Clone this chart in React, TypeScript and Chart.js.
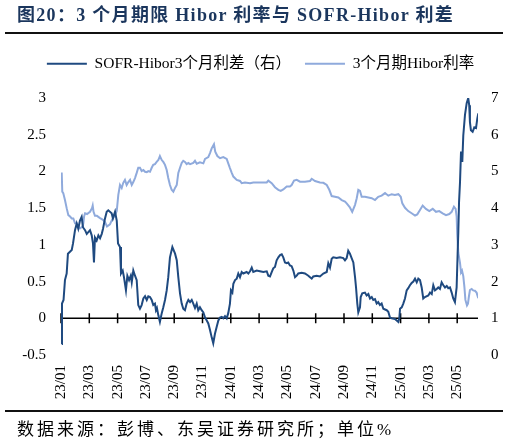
import React, { useEffect, useRef } from "react";
import { Chart, registerables } from "chart.js";

Chart.register(...registerables);

// x positions are months elapsed since 2023-01-01 (decimal months)
const xTickMonths = [0, 2, 4, 6, 8, 10, 12, 14, 16, 18, 20, 22, 24, 26, 28];
const xTickLabels = [
  "23/01", "23/03", "23/05", "23/07", "23/09", "23/11",
  "24/01", "24/03", "24/05", "24/07", "24/09", "24/11",
  "25/01", "25/03", "25/05",
];
const leftTicks = [-0.5, 0, 0.5, 1, 1.5, 2, 2.5, 3];
const rightTicks = [0, 1, 2, 3, 4, 5, 6, 7];

const legendSpread = "SOFR-Hibor3个月利差（右）";
const legendHibor = "3个月期Hibor利率";

// SOFR-Hibor 3M spread (left axis)
const spreadMonth = [
  0.05, 0.07, 0.18, 0.28, 0.40, 0.49, 0.76, 0.85, 0.99, 1.11,
  1.22, 1.34, 1.46, 1.55, 1.70, 1.82, 2.05, 2.17, 2.26, 2.33,
  2.40, 2.52, 2.64, 2.76, 2.88, 2.97, 3.11, 3.23, 3.34, 3.58,
  3.67, 3.82, 3.94, 4.03, 4.17, 4.24, 4.36, 4.45, 4.59, 4.69,
  4.81, 4.93, 5.00, 5.11, 5.23, 5.35, 5.46, 5.58, 5.70, 5.82,
  5.94, 6.06, 6.17, 6.29, 6.41, 6.52, 6.64, 6.71, 6.78, 6.88,
  6.99, 7.12, 7.23, 7.35, 7.47, 7.58, 7.70, 7.87, 8.06, 8.18,
  8.29, 8.41, 8.53, 8.64, 8.76, 8.88, 9.00, 9.12, 9.24, 9.35,
  9.47, 9.59, 9.70, 9.82, 9.94, 10.06, 10.18, 10.30, 10.41, 10.53,
  10.65, 10.76, 10.88, 11.00, 11.12, 11.24, 11.36, 11.47, 11.59, 11.71,
  11.82, 11.94, 12.01, 12.11, 12.18, 12.30, 12.42, 12.53, 12.65, 12.77,
  12.88, 13.12, 13.24, 13.36, 13.48, 13.59, 13.83, 14.06, 14.30, 14.54,
  14.65, 14.77, 14.89, 15.00, 15.12, 15.24, 15.36, 15.48, 15.60, 15.71,
  15.83, 15.95, 16.06, 16.18, 16.30, 16.42, 16.54, 16.66, 16.77, 17.01,
  17.24, 17.48, 17.60, 17.72, 17.83, 18.07, 18.30, 18.54, 18.78, 18.89,
  19.01, 19.13, 19.24, 19.48, 19.72, 19.95, 20.07, 20.19, 20.30, 20.42,
  20.54, 20.66, 20.78, 20.85, 20.94, 21.01, 21.13, 21.18, 21.29, 21.48,
  21.60, 21.72, 21.84, 21.96, 22.07, 22.19, 22.31, 22.42, 22.54, 22.66,
  22.78, 22.90, 23.02, 23.13, 23.25, 23.37, 23.60, 23.84, 23.91, 23.96,
  24.08, 24.19, 24.31, 24.43, 24.54, 24.66, 24.78, 24.90, 25.02, 25.14,
  25.25, 25.37, 25.49, 25.60, 25.72, 25.96, 26.08, 26.20, 26.31, 26.43,
  26.55, 26.66, 26.78, 26.90, 27.02, 27.14, 27.26, 27.37, 27.49, 27.61,
  27.72, 27.84, 27.96, 28.03, 28.08, 28.13, 28.20, 28.27, 28.36, 28.43,
  28.55, 28.67, 28.78, 28.85, 28.90, 28.97, 29.09, 29.21, 29.33, 29.42,
  29.49,
];
const spreadValues = [
  -0.35, 0.20, 0.25, 0.52, 0.61, 0.88, 0.93, 1.02, 1.20, 1.29,
  1.22, 1.33, 1.38, 1.24, 1.20, 1.15, 1.20, 1.13, 1.02, 0.76,
  1.10, 1.06, 1.13, 1.09, 1.15, 1.22, 1.36, 1.45, 1.47, 1.43,
  1.36, 1.45, 1.33, 1.02, 0.97, 0.61, 0.65, 0.56, 0.38, 0.58,
  0.52, 0.58, 0.49, 0.65, 0.58, 0.52, 0.18, 0.13, 0.18, 0.27,
  0.30, 0.25, 0.30, 0.29, 0.25, 0.18, 0.20, 0.11, 0.14, 0.04,
  -0.05, 0.07, 0.15, 0.25, 0.38, 0.56, 0.83, 0.97, 0.88, 0.79,
  0.56, 0.34, 0.20, 0.13, 0.11, 0.20, 0.25, 0.22, 0.25, 0.20,
  0.14, 0.20, 0.11, 0.15, 0.11, 0.08, 0.01, -0.03, -0.07, -0.16,
  -0.26, -0.34, -0.21, -0.12, -0.03, 0.01, 0.02, 0.00, 0.03, 0.00,
  0.07, 0.20, 0.38, 0.35, 0.47, 0.52, 0.54, 0.61, 0.56, 0.63,
  0.61, 0.63, 0.61, 0.64, 0.69, 0.63, 0.65, 0.64, 0.63, 0.64,
  0.58, 0.57, 0.63, 0.68, 0.70, 0.79, 0.83, 0.86, 0.87, 0.83,
  0.76, 0.75, 0.76, 0.72, 0.71, 0.65, 0.56, 0.58, 0.61, 0.62,
  0.61, 0.58, 0.56, 0.54, 0.57, 0.58, 0.57, 0.61, 0.63, 0.75,
  0.69, 0.81, 0.83, 0.82, 0.83, 0.82, 0.79, 0.82, 0.92, 0.88,
  0.82, 0.76, 0.56, 0.42, 0.20, 0.08, 0.15, 0.29, 0.34, 0.35,
  0.31, 0.33, 0.27, 0.29, 0.25, 0.26, 0.20, 0.22, 0.18, 0.20,
  0.13, 0.12, 0.11, 0.09, 0.01, 0.00, -0.01, -0.05, 0.00, 0.13,
  0.15, 0.20, 0.27, 0.38, 0.41, 0.45, 0.48, 0.50, 0.54, 0.49,
  0.54, 0.52, 0.42, 0.27, 0.29, 0.31, 0.35, 0.33, 0.45, 0.38,
  0.40, 0.42, 0.40, 0.49, 0.45, 0.42, 0.44, 0.41, 0.42, 0.35,
  0.27, 0.22, 0.42, 0.88, 1.18, 1.58, 1.86, 2.27, 2.13, 2.49,
  2.77, 2.93, 3.00, 2.90, 2.67, 2.56, 2.54, 2.60, 2.59, 2.72,
  2.79,
];

// 3M HIBOR (right axis)
const hiborMonth = [
  0.05, 0.09, 0.16, 0.28, 0.40, 0.52, 0.64, 0.76, 0.87, 0.99,
  1.11, 1.22, 1.34, 1.53, 1.58, 1.63, 1.70, 1.84, 2.05, 2.19,
  2.24, 2.30, 2.40, 2.54, 2.76, 2.97, 3.11, 3.25, 3.46, 3.60,
  3.82, 3.94, 4.05, 4.17, 4.29, 4.40, 4.52, 4.64, 4.76, 4.88,
  5.00, 5.11, 5.23, 5.35, 5.46, 5.58, 5.70, 5.82, 5.94, 6.06,
  6.17, 6.29, 6.41, 6.52, 6.64, 6.76, 6.88, 6.99, 7.12, 7.23,
  7.35, 7.47, 7.58, 7.70, 7.82, 7.94, 8.06, 8.18, 8.29, 8.41,
  8.53, 8.64, 8.76, 8.88, 9.00, 9.12, 9.35, 9.47, 9.59, 9.82,
  10.06, 10.18, 10.41, 10.53, 10.65, 10.81, 10.90, 11.05, 11.24, 11.47,
  11.71, 11.82, 11.94, 12.06, 12.18, 12.42, 12.65, 12.77, 13.00, 13.36,
  13.59, 14.06, 14.54, 14.65, 14.89, 15.12, 15.36, 15.53, 15.71, 15.95,
  16.18, 16.30, 16.47, 16.66, 16.89, 17.24, 17.60, 17.72, 17.95, 18.30,
  18.54, 18.78, 18.96, 19.13, 19.36, 19.60, 19.84, 20.07, 20.19, 20.40,
  20.58, 20.78, 20.90, 21.01, 21.13, 21.25, 21.48, 21.72, 21.96, 22.19,
  22.42, 22.66, 22.90, 23.13, 23.37, 23.60, 23.84, 24.01, 24.12, 24.31,
  24.54, 24.78, 25.02, 25.18, 25.37, 25.56, 25.79, 26.03, 26.27, 26.50,
  26.73, 26.97, 27.21, 27.44, 27.61, 27.77, 27.89, 27.96, 28.00, 28.08,
  28.20, 28.27, 28.34, 28.43, 28.51, 28.58, 28.69, 28.76, 28.83, 28.90,
  29.02, 29.13, 29.25, 29.37, 29.49,
];
const hiborValues = [
  4.97, 4.45, 4.41, 4.22, 4.00, 3.81, 3.77, 3.72, 3.72, 3.59,
  3.59, 3.50, 3.45, 3.50, 3.59, 3.77, 3.86, 3.84, 3.90, 4.00,
  4.07, 3.90, 3.79, 3.79, 3.73, 3.68, 3.62, 3.50, 3.56, 3.68,
  3.81, 3.92, 4.36, 4.63, 4.55, 4.69, 4.77, 4.63, 4.71, 4.77,
  4.63, 4.71, 4.82, 4.96, 5.10, 5.10, 5.01, 5.04, 4.99, 4.98,
  5.01, 4.99, 5.10, 5.18, 5.20, 5.26, 5.31, 5.42, 5.31, 5.26,
  5.18, 5.04, 4.82, 4.63, 4.50, 4.45, 4.55, 4.63, 4.96, 5.10,
  5.23, 5.29, 5.26, 5.20, 5.23, 5.20, 5.23, 5.29, 5.21, 5.25,
  5.22, 5.34, 5.39, 5.50, 5.63, 5.74, 5.54, 5.42, 5.36, 5.39,
  5.34, 5.22, 5.09, 4.97, 4.86, 4.77, 4.74, 4.68, 4.70, 4.68,
  4.70, 4.70, 4.70, 4.75, 4.68, 4.57, 4.50, 4.47, 4.51, 4.59,
  4.59, 4.63, 4.75, 4.77, 4.72, 4.72, 4.74, 4.80, 4.74, 4.70,
  4.69, 4.63, 4.50, 4.33, 4.31, 4.29, 4.22, 4.18, 4.13, 4.03,
  3.90, 4.09, 4.27, 4.50, 4.47, 4.31, 4.31, 4.29, 4.27, 4.22,
  4.31, 4.34, 4.41, 4.34, 4.38, 4.36, 4.38, 4.31, 4.13, 4.01,
  3.92, 3.86, 3.80, 3.83, 3.95, 4.07, 3.98, 3.92, 3.98, 3.90,
  3.92, 3.86, 3.81, 3.84, 3.90, 4.04, 3.98, 3.77, 3.30, 2.78,
  2.50, 2.25, 2.30, 2.15, 1.85, 1.50, 1.35, 1.40, 1.60, 1.77,
  1.80, 1.76, 1.75, 1.70, 1.55,
];

const SERIF = '"Liberation Serif", "Times New Roman", "Noto Sans CJK SC", serif';
const DARK = "#1F4A80";
const LIGHT = "#8FAADC";

const zeroAxisPlugin = {
  id: "zeroAxis",
  beforeDatasetsDraw(chart: any) {
    const { ctx, chartArea, scales } = chart;
    const y = scales.yL.getPixelForValue(0);
    ctx.save();
    ctx.strokeStyle = "#000";
    ctx.lineWidth = 1.5;
    ctx.beginPath();
    ctx.moveTo(chartArea.left, y);
    ctx.lineTo(chartArea.right, y);
    for (const m of xTickMonths) {
      const x = scales.x.getPixelForValue(m);
      ctx.moveTo(x, y - 5);
      ctx.lineTo(x, y + 5);
    }
    ctx.stroke();
    ctx.restore();
  },
};

const legendSpacer = {
  id: "legendSpacer",
  beforeInit(chart: any) {
    const legend = chart.legend;
    if (!legend) return;
    const origFit = legend.fit;
    legend.fit = function () {
      origFit.call(this);
      this.height += 16.5;
    };
  },
};

export default function App() {
  const ref = useRef<HTMLCanvasElement | null>(null);

  useEffect(() => {
    if (!ref.current) return;
    const chart = new Chart(ref.current, {
      type: "line",
      data: {
        datasets: [
          {
            label: legendSpread,
            data: spreadMonth.map((m, i) => ({ x: m, y: spreadValues[i] })),
            borderColor: DARK,
            backgroundColor: DARK,
            borderWidth: 2,
            pointRadius: 0,
            tension: 0,
            yAxisID: "yL",
          },
          {
            label: legendHibor,
            data: hiborMonth.map((m, i) => ({ x: m, y: hiborValues[i] })),
            borderColor: LIGHT,
            backgroundColor: LIGHT,
            borderWidth: 2,
            pointRadius: 0,
            tension: 0,
            yAxisID: "yR",
          },
        ],
      },
      options: {
        responsive: false,
        animation: false,
        events: [],
        layout: { padding: { top: 42, left: 12, right: 0, bottom: 0 } },
        plugins: {
          tooltip: { enabled: false },
          title: { display: false },
          legend: {
            display: true,
            position: "top",
            align: "center",
            labels: {
              usePointStyle: true,
              pointStyle: "line",
              pointStyleWidth: 40,
              padding: 14,
              color: "#000",
              font: { family: SERIF, size: 15.5 },
            },
          },
        },
        scales: {
          x: {
            type: "linear",
            min: 0,
            max: 29.47,
            afterBuildTicks: (scale: any) => {
              scale.ticks = xTickMonths.map((v) => ({ value: v }));
            },
            afterFit: (scale: any) => {
              scale.height = 89;
            },
            ticks: {
              autoSkip: false,
              maxRotation: 90,
              minRotation: 90,
              padding: 10,
              color: "#000",
              font: { family: SERIF, size: 15 },
              callback: (value: any) => {
                const i = xTickMonths.indexOf(Number(value));
                return i >= 0 ? xTickLabels[i] : "";
              },
            },
            grid: { display: false, drawTicks: false },
            border: { display: false },
          },
          yL: {
            type: "linear",
            position: "left",
            min: -0.5,
            max: 3,
            afterBuildTicks: (scale: any) => {
              scale.ticks = leftTicks.map((v) => ({ value: v }));
            },
            afterFit: (scale: any) => {
              scale.width = 49;
            },
            ticks: {
              padding: 15,
              color: "#000",
              font: { family: SERIF, size: 15 },
              callback: (value: any) => String(value),
            },
            grid: { display: false, drawTicks: false },
            border: { display: false },
          },
          yR: {
            type: "linear",
            position: "right",
            min: 0,
            max: 7,
            afterBuildTicks: (scale: any) => {
              scale.ticks = rightTicks.map((v) => ({ value: v }));
            },
            afterFit: (scale: any) => {
              scale.width = 31;
            },
            ticks: {
              padding: 13,
              color: "#000",
              font: { family: SERIF, size: 15 },
              callback: (value: any) => String(value),
            },
            grid: { display: false, drawTicks: false },
            border: { display: false },
          },
        },
      } as any,
      plugins: [legendSpacer, zeroAxisPlugin],
    });
    return () => chart.destroy();
  }, []);

  return (
    <div
      style={{
        position: "absolute",
        left: 0,
        top: 0,
        width: 509,
        height: 444,
        background: "#fff",
        overflow: "hidden",
      }}
    >
      <canvas
        ref={ref}
        width={509}
        height={444}
        style={{ position: "absolute", left: 0, top: 0, width: 509, height: 444 }}
      />
      <div
        style={{
          position: "absolute",
          left: 17,
          top: 4,
          fontFamily: SERIF,
          fontWeight: "bold",
          fontSize: 18,
          lineHeight: "22px",
          letterSpacing: "1.3px",
          color: "#1B365D",
          whiteSpace: "nowrap",
        }}
      >
        图20：3 个月期限 Hibor 利率与 SOFR-Hibor 利差
      </div>
      <div
        style={{
          position: "absolute",
          left: 5,
          top: 32,
          width: 498,
          height: 2,
          background: "#111",
        }}
      />
      <div
        style={{
          position: "absolute",
          left: 5,
          top: 410,
          width: 498,
          height: 2,
          background: "#111",
        }}
      />
      <div
        style={{
          position: "absolute",
          left: 17,
          top: 419,
          fontFamily: SERIF,
          fontSize: 17,
          lineHeight: "22px",
          letterSpacing: "3px",
          color: "#000",
          whiteSpace: "nowrap",
        }}
      >
        数据来源：彭博、东吴证券研究所；单位%
      </div>
    </div>
  );
}
